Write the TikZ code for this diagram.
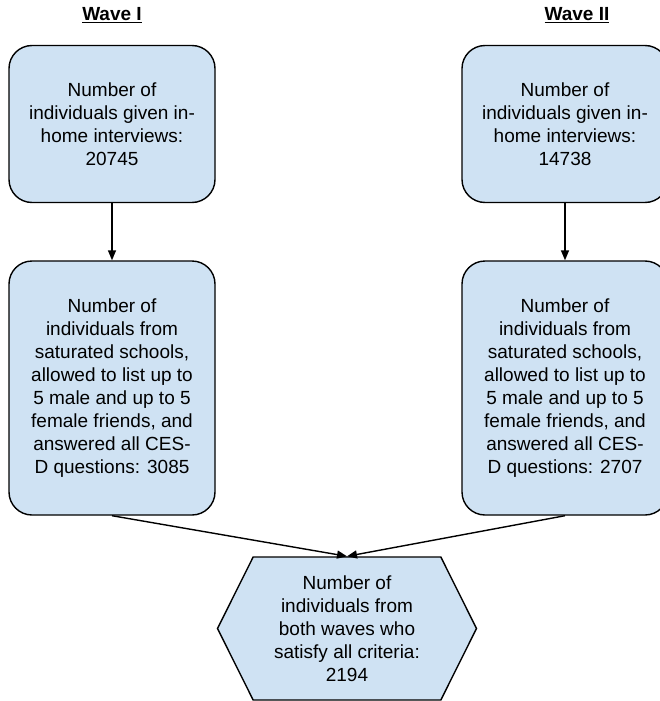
\documentclass[tikz,border=0pt]{standalone}
\usepackage{fontspec}
\setmainfont{Liberation Sans}
\usetikzlibrary{arrows.meta, shapes.symbols, positioning}
\definecolor{boxblue}{HTML}{CFE2F3}

\begin{document}
\begin{tikzpicture}[x=1pt,y=-1pt,
        box/.style={draw, line width=1.4pt, fill=boxblue, rounded corners=23pt,
            minimum width=206pt, align=center, inner sep=0pt,
            font=\fontsize{19}{23}\selectfont},
        hexbox/.style={draw, line width=1.4pt, fill=boxblue, shape=signal,
            signal to=west and east, signal pointer angle=127,
            minimum width=259pt, minimum height=143pt, align=center, inner sep=0pt,
            font=\fontsize{19}{23}\selectfont},
        link/.style={-{Triangle[length=10pt,width=8pt]}, line width=1.4pt},
        head/.style={font=\fontsize{19}{22}\selectfont\bfseries}]
        \useasboundingbox (0,0) rectangle (659,701);
        %titles
        \node[head] (headone) at (112,15) {\underline{Wave I}};
        \node[head] (headtwo) at (577,15) {\underline{Wave II}};
        %first row
        \node[box, minimum height=157pt] (homeone) at (112,124) {Number of\\individuals given in-\\home interviews:\\20745};
        \node[box, minimum height=157pt] (hometwo) at (565,124) {Number of\\individuals given in-\\home interviews:\\14738};
        %second row
        \node[box, minimum height=254pt] (schoolone) at (112,388) {Number of\\individuals from\\saturated schools,\\allowed to list up to\\5 male and up to 5\\female friends, and\\answered all CES-\\D questions: 3085};
        \node[box, minimum height=254pt] (schooltwo) at (565,388) {Number of\\individuals from\\saturated schools,\\allowed to list up to\\5 male and up to 5\\female friends, and\\answered all CES-\\D questions: 2707};
        %both waves
        \node[hexbox] (both) at (347,628.5) {Number of\\individuals from\\both waves who\\satisfy all criteria:\\2194};
        \draw[link] (homeone) -- (schoolone);
        \draw[link] (hometwo) -- (schooltwo);
        \draw[link] (schoolone.south) -- (both.north);
        \draw[link] (schooltwo.south) -- (both.north);
\end{tikzpicture}
\end{document}
